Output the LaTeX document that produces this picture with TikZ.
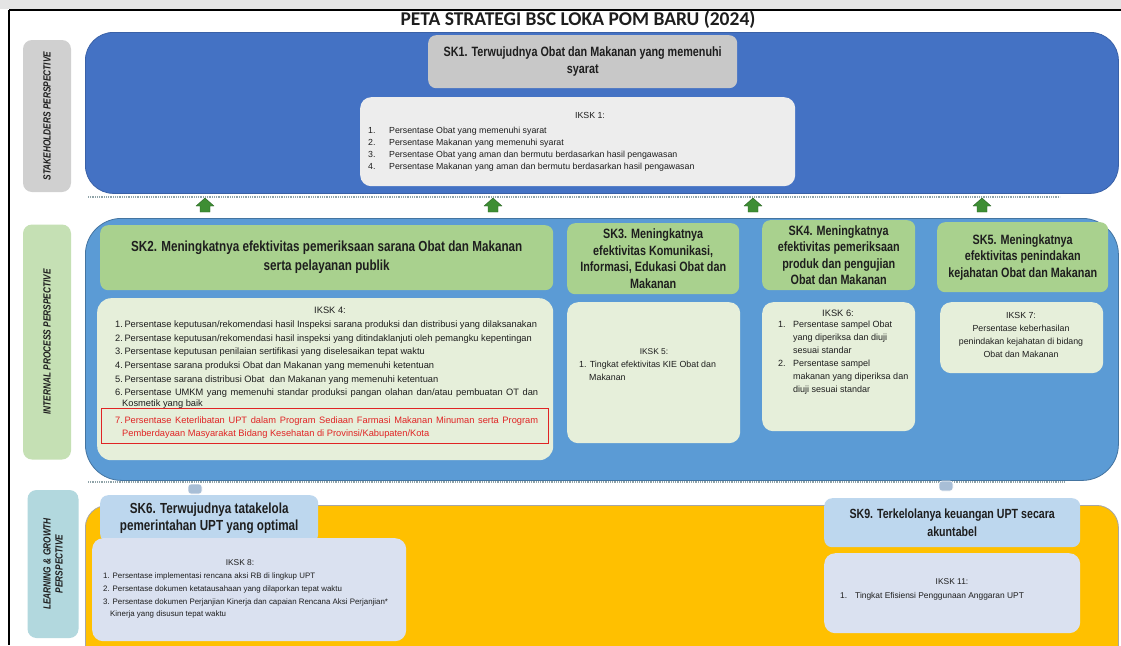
\documentclass[tikz,border=0pt]{standalone}
\usepackage{fontspec}
\setmainfont{Liberation Sans}
\newfontfamily\narB[FakeStretch=0.80]{Liberation Sans}
\newfontfamily\narR{Liberation Sans}
\newfontfamily\ttlF{Carlito}
\definecolor{topgray}{HTML}{E4E4E4}
\definecolor{blueA}{HTML}{4472C4}
\definecolor{blueB}{HTML}{5B9BD5}
\definecolor{yelP}{HTML}{FFC000}
\definecolor{skgray}{HTML}{C8C8C8}
\definecolor{ikgray}{HTML}{EDEDED}
\definecolor{skgreen}{HTML}{A9D18E}
\definecolor{ikgreen}{HTML}{E6EFDA}
\definecolor{lgreen}{HTML}{C5E0B4}
\definecolor{lgray}{HTML}{D0D0D0}
\definecolor{lblue}{HTML}{B2D8DE}
\definecolor{skblue}{HTML}{BDD7EE}
\definecolor{iklav}{HTML}{DAE1F0}
\definecolor{arrgreen}{HTML}{3E8E34}
\definecolor{txt}{HTML}{1E1E1E}
\definecolor{redt}{HTML}{E02424}
\definecolor{dotc}{HTML}{8FA3A8}
\definecolor{blobc}{HTML}{A8BED6}
\newcommand\skfnt{\narB\bfseries\fontsize{13.5}{16.5}\selectfont}
\newcommand\lblfnt{\narB\bfseries\itshape\fontsize{10.4}{12}\selectfont}
\newcommand\ikA{\narR\fontsize{9.3}{13.7}\selectfont}
\newcommand\ikB{\narR\fontsize{8.8}{12}\selectfont}
\newcommand\ikC{\narR\fontsize{8.4}{13}\selectfont}
\begin{document}
\begin{tikzpicture}[x=1pt,y=-1pt,
  panel/.style={rounded corners=28pt, inner sep=0pt, anchor=north west, line width=0.8pt},
  skbox/.style={rounded corners=8pt, inner sep=2pt, anchor=north west, align=center, font=\skfnt, text=txt},
  ikbox/.style={rounded corners=11pt, anchor=north west, inner sep=0pt},
  iktext/.style={inner sep=0pt, align=left, text=txt, anchor=north west},
  ikhead/.style={inner sep=0pt, text=txt},
  lbl/.style={rounded corners=9pt, rotate=90, align=center, font=\lblfnt, text=txt, inner sep=0pt},
  uparr/.style={fill=arrgreen, draw=arrgreen!70!black, line width=0.4pt, line join=round},
  blob/.style={rounded corners=3pt, fill=blobc, draw=white, line width=0.6pt,
    minimum width=14pt, minimum height=10pt, inner sep=0pt},
  dotline/.style={dotc, line width=2.2pt, dash pattern=on 0.9pt off 0.9pt},
]
\useasboundingbox (0,0) rectangle (1121,645);
\clip (0,0) rectangle (1121,645);
\fill[white] (0,0) rectangle (1121,645);
\fill[topgray] (0,0) rectangle (1121,9);
\draw[line width=2pt] (9,10) -- (1121,10);
\draw[line width=2pt] (9,10) -- (9,645);

% title
\node[font=\ttlF\bfseries\fontsize{19.5}{22}\selectfont, text=txt] (title) at (578,20) {PETA STRATEGI BSC LOKA POM BARU (2024)};

% perspective labels
\node[lbl, fill=lgray, minimum width=152pt, minimum height=48pt] (L1) at (47,116) {STAKEHOLDERS PERSPECTIVE};
\node[lbl, fill=lgreen, minimum width=235pt, minimum height=48pt] (L2) at (47,342) {INTERNAL PROCESS PERSPECTIVE};
\node[lbl, fill=lblue, minimum width=148pt, minimum height=51pt] (L3) at (53,564) {LEARNING \& GROWTH\\PERSPECTIVE};

% panels
\node[panel, fill=blueA, draw=blueA!85!black, minimum width=1033pt, minimum height=161pt] (P1) at (85,32) {};
\node[panel, rounded corners=36pt, fill=blueB, draw=blueB!75!black, minimum width=1033pt, minimum height=262pt] (P2) at (85,218) {};
\node[panel, rounded corners=22pt, fill=yelP, draw=gray!70, minimum width=1033pt, minimum height=170pt] (P3) at (85,505) {};

% dotted separators
\coordinate (d1a) at (88,197); \coordinate (d1b) at (1060,197);
\coordinate (d2a) at (88,482); \coordinate (d2b) at (1065,482);
\draw[dotline] (d1a) -- (d1b);
\draw[dotline] (d2a) -- (d2b);

% stakeholder perspective
\node[skbox, fill=skgray, minimum width=309pt, minimum height=53pt] (SK1) at (428,35)
  {SK1. Terwujudnya Obat dan Makanan yang memenuhi\\syarat};
\node[ikbox, fill=ikgray, minimum width=435pt, minimum height=89pt] (IK1) at (360,97) {};
\node[ikhead, font=\ikB] (IK1h) at (590,115) {IKSK 1:};
\node[iktext, font=\ikB] (IK1t) at (368,127) {%
  \makebox[21pt][l]{1.}Persentase Obat yang memenuhi syarat\\
  \makebox[21pt][l]{2.}Persentase Makanan yang memenuhi syarat\\
  \makebox[21pt][l]{3.}Persentase Obat yang aman dan bermutu berdasarkan hasil pengawasan\\
  \makebox[21pt][l]{4.}Persentase Makanan yang aman dan bermutu berdasarkan hasil pengawasan};

% up arrows
\foreach \n/\xx in {A1/205,A2/493,A3/753,A4/982}{
  \coordinate (\n) at (\xx,205);
  \draw[uparr] (\n) ++(-9,1) -- ++(9,-8) -- ++(9,8) -- ++(-4,0) -- ++(0,6) -- ++(-10,0) -- ++(0,-6) -- cycle;
}

% internal process perspective
\node[skbox, fill=skgreen, minimum width=453pt, minimum height=65pt, font=\narB\bfseries\fontsize{14.6}{19}\selectfont] (SK2) at (100,225)
  {SK2. Meningkatnya efektivitas pemeriksaan sarana Obat dan Makanan\\serta pelayanan publik};
\node[skbox, fill=skgreen, minimum width=172pt, minimum height=71pt] (SK3) at (567,223)
  {SK3. Meningkatnya\\efektivitas Komunikasi,\\Informasi, Edukasi Obat dan\\Makanan};
\node[skbox, fill=skgreen, minimum width=153pt, minimum height=70pt] (SK4) at (762,220)
  {SK4. Meningkatnya\\efektivitas pemeriksaan\\produk dan pengujian\\Obat dan Makanan};
\node[skbox, fill=skgreen, minimum width=171pt, minimum height=70pt] (SK5) at (937,222)
  {SK5. Meningkatnya\\efektivitas penindakan\\kejahatan Obat dan Makanan};

\node[ikbox, rounded corners=14pt, fill=ikgreen, minimum width=456pt, minimum height=162pt] (IK4) at (97,298) {};
\node[ikhead, font=\ikA] (IK4h) at (330,310) {IKSK 4:};
\node[iktext, font=\ikA] (IK4t) at (115,320.5) {%
  1.\,Persentase keputusan/rekomendasi hasil Inspeksi sarana produksi dan distribusi yang dilaksanakan\\
  2.\,Persentase keputusan/rekomendasi hasil inspeksi yang ditindaklanjuti oleh pemangku kepentingan\\
  3.\,Persentase keputusan penilaian sertifikasi yang diselesaikan tepat waktu\\
  4.\,Persentase sarana produksi Obat dan Makanan yang memenuhi ketentuan\\
  5.\,Persentase sarana distribusi Obat\ \ dan Makanan yang memenuhi ketentuan\\
  \makebox[423pt][s]{6.\,Persentase UMKM yang memenuhi standar produksi pangan olahan dan/atau pembuatan OT dan}\\[-3.5pt]
  \hspace*{7pt}Kosmetik yang baik};
\node[anchor=north west, draw=redt, line width=1.3pt, fill=ikgreen, minimum width=447pt, minimum height=35pt, inner sep=0pt] (RED) at (101,408) {};
\node[iktext, font=\ikA, text=redt] (IK4r) at (115,416.5) {%
  \makebox[423pt][s]{7.\,Persentase Keterlibatan UPT dalam Program Sediaan Farmasi Makanan Minuman serta Program}\\[-0.8pt]
  \hspace*{7pt}Pemberdayaan Masyarakat Bidang Kesehatan di Provinsi/Kabupaten/Kota};

\node[ikbox, fill=ikgreen, minimum width=173pt, minimum height=141pt] (IK5) at (567,302) {};
\node[ikhead, font=\ikC] (IK5h) at (654,352) {IKSK 5:};
\node[iktext, font=\narR\fontsize{8.85}{12.5}\selectfont] (IK5t) at (579,361) {%
  1. Tingkat efektivitas KIE Obat dan\\
  \hspace*{10pt}Makanan};

\node[ikbox, fill=ikgreen, minimum width=153pt, minimum height=129pt] (IK6) at (762,302) {};
\node[ikhead, font=\ikA] (IK6h) at (838,313) {IKSK 6:};
\node[iktext, font=\narR\fontsize{9}{13}\selectfont] (IK6t) at (778,321) {%
  \makebox[15pt][l]{1.}Persentase sampel Obat\\
  \hspace*{15pt}yang diperiksa dan diuji\\
  \hspace*{15pt}sesuai standar\\
  \makebox[15pt][l]{2.}Persentase sampel\\
  \hspace*{15pt}makanan yang diperiksa dan\\
  \hspace*{15pt}diuji sesuai standar};

\node[ikbox, fill=ikgreen, minimum width=163pt, minimum height=71pt] (IK7) at (940,302) {};
\node[ikhead, align=center, font=\narR\fontsize{8.8}{13}\selectfont] (IK7t) at (1021,334.5) {%
  IKSK 7:\\Persentase keberhasilan\\penindakan kejahatan di bidang\\Obat dan Makanan};

% learning & growth perspective
\node[blob] (B1) at (195,489) {};
\node[blob] (B2) at (946,486) {};
\node[skbox, fill=skblue, minimum width=218pt, minimum height=47pt, font=\narB\bfseries\fontsize{14.6}{17}\selectfont] (SK6) at (100,495)
  {SK6. Terwujudnya tatakelola\\pemerintahan UPT yang optimal};
\node[skbox, fill=skblue, minimum width=256pt, minimum height=49pt, font=\narB\bfseries\fontsize{13.3}{18}\selectfont] (SK9) at (824,498)
  {SK9. Terkelolanya keuangan UPT secara\\akuntabel};

\node[ikbox, fill=iklav, minimum width=314pt, minimum height=103pt] (IK8) at (92,538) {};
\node[ikhead, font=\ikC] (IK8h) at (240,563) {IKSK 8:};
\node[iktext, font=\narR\fontsize{7.9}{12.8}\selectfont] (IK8t) at (103,572.5) {%
  1. Persentase implementasi rencana aksi RB di lingkup UPT\\
  2. Persentase dokumen ketatausahaan yang dilaporkan tepat waktu\\
  3. Persentase dokumen Perjanjian Kinerja dan capaian Rencana Aksi Perjanjian*\\
  \hspace*{7pt}Kinerja yang disusun tepat waktu};

\node[ikbox, fill=iklav, minimum width=256pt, minimum height=80pt] (IK11) at (824,553) {};
\node[ikhead, font=\ikC] (IK11h) at (952,582) {IKSK 11:};
\node[iktext, font=\ikC] (IK11t) at (840,592) {%
  \makebox[15pt][l]{1.}Tingkat Efisiensi Penggunaan Anggaran UPT};
\end{tikzpicture}
\end{document}
